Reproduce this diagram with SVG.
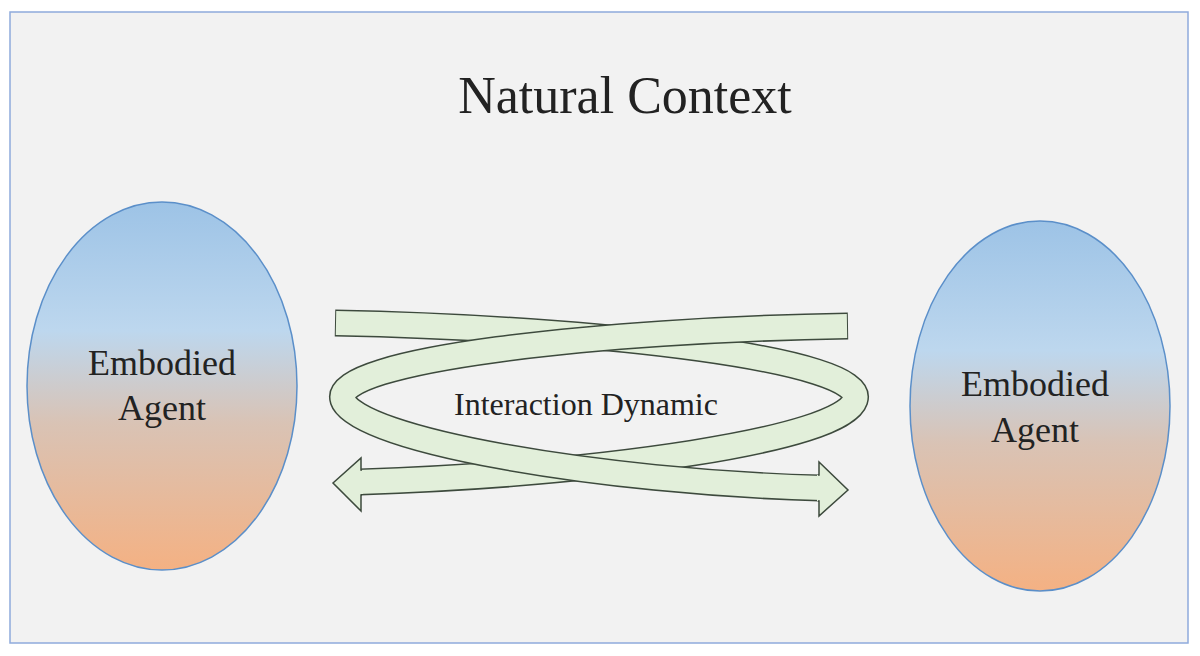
<svg xmlns="http://www.w3.org/2000/svg" width="1200" height="656" viewBox="0 0 1200 656">
<defs>
<linearGradient id="g" x1="0" y1="0" x2="0" y2="1">
<stop offset="0" stop-color="#9dc3e6"/><stop offset="0.35" stop-color="#bdd7ee"/><stop offset="0.6" stop-color="#d9c3b5"/><stop offset="1" stop-color="#f4b183"/>
</linearGradient>
<style>
.ag{fill:url(#g);stroke:#5b8fc9;stroke-width:1.5}
.t{font-family:"Liberation Serif","DejaVu Serif",serif;fill:#222;text-anchor:middle}
.o{fill:none;stroke:#3d4a3d;stroke-width:27}
.i{fill:none;stroke:#e2efda;stroke-width:24}
.hf{fill:#e2efda;stroke:none}
.hl{fill:none;stroke:#3d4a3d;stroke-width:1.5}
</style>
</defs>
<rect x="0" y="0" width="1200" height="656" fill="#ffffff"/>
<rect x="10" y="12" width="1178" height="631" fill="#f2f2f2" stroke="#8faadc" stroke-width="1.5"/>
<text class="t" x="625" y="113" font-size="52">Natural Context</text>
<g id="agent-left"><ellipse class="ag" cx="162" cy="386" rx="135" ry="184"/>
<text class="t" x="162" y="375" font-size="36">Embodied</text><text class="t" x="162" y="420" font-size="36">Agent</text></g>
<g id="agent-right"><ellipse class="ag" cx="1040" cy="406" rx="130" ry="185"/>
<text class="t" x="1035" y="396" font-size="36">Embodied</text><text class="t" x="1035" y="442" font-size="36">Agent</text></g>
<g id="connectors">
<path class="o" d="M335,323 C600,328 868,360 855,400 C842,440 600,474 360,482"/>
<path class="i" d="M336,323 C600,328 868,360 855,400 C842,440 600,474 358,482"/>
<polygon class="hf" points="361,458 333,483 361,511 361,494 363,494 363,470 361,470"/>
<polyline class="hl" points="362,470 361,470 361,458 333,483 361,511 361,495 362,495"/>
<path class="o" d="M848,326 C600,330 330,360 343,400 C356,440 600,482 820,488"/>
<path class="i" d="M847,326 C600,330 330,360 343,400 C356,440 600,482 822,488"/>
<polygon class="hf" points="819,462 848,490 819,516 819,501 817,501 817,475 819,475"/>
<polyline class="hl" points="818,475 819,475 819,462 848,490 819,516 819,501 818,501"/>
</g>
<text class="t" x="586" y="415" font-size="32">Interaction Dynamic</text>
</svg>
